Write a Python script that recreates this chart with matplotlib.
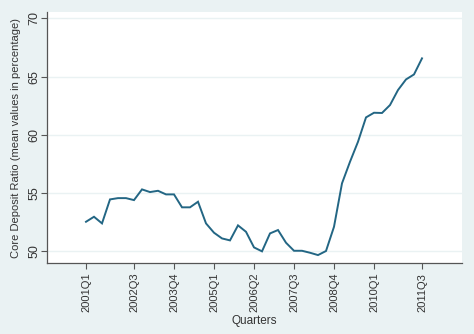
import matplotlib
matplotlib.use("Agg")
import matplotlib.pyplot as plt
import numpy as np

plt.rcParams['font.family'] = ['Liberation Sans', 'DejaVu Sans']

# Quarterly data, 2001Q1 .. 2011Q3
start_year = 2001
values = [52.54, 52.97, 52.40, 54.46, 54.57, 54.57, 54.40, 55.32, 55.09, 55.20,
          54.89, 54.89, 53.78, 53.78, 54.26, 52.40, 51.60, 51.11, 50.94, 52.23,
          51.68, 50.34, 50.00, 51.54, 51.83, 50.74, 50.05, 50.05, 49.88, 49.68,
          50.03, 52.11, 55.84, 57.69, 59.41, 61.50, 61.90, 61.88, 62.56, 63.85,
          64.76, 65.19, 66.57]
tick_labels = ["2001Q1", "2002Q3", "2003Q4", "2005Q1", "2006Q2", "2007Q3",
               "2008Q4", "2010Q1", "2011Q3"]
y_ticks = [50, 55, 60, 65, 70]

def qindex(lbl):
    y = int(lbl[:4]); q = int(lbl[5])
    return (y - start_year) * 4 + (q - 1)

x = np.arange(len(values))
bg = "#EAF2F3"
fig = plt.figure(figsize=(4.74, 3.34), dpi=100, facecolor=bg)
ax = fig.add_axes([47/474, 1 - 263/334, (462-47)/474, (263-12)/334])
ax.set_facecolor("white")
ax.plot(x, values, color="#236684", lw=1.4, solid_joinstyle="miter")
ax.set_xlim(-4.875, 47)
ax.set_ylim(49.0, 70.55)
ax.set_yticks(y_ticks)
ax.set_yticklabels([str(v) for v in y_ticks], rotation=90, va="center")
ax.set_xticks([qindex(l) for l in tick_labels])
ax.set_xticklabels(tick_labels, rotation=90)
ax.grid(axis="y", color=bg, lw=1.0)
ax.set_axisbelow(True)
for s in ["top", "right"]:
    ax.spines[s].set_visible(False)
for s in ["left", "bottom"]:
    ax.spines[s].set_color("#555555")
    ax.spines[s].set_linewidth(0.9)
ax.tick_params(axis="both", colors="#555555", labelcolor="#333333",
               length=4, width=0.8)
ax.tick_params(axis="x", labelsize=8, pad=3)
ax.tick_params(axis="y", labelsize=9, pad=1)
ax.set_xlabel("Quarters", fontsize=8.5, color="#333333", labelpad=2)
ax.set_ylabel("Core Deposit Ratio (mean values in percentage)", fontsize=8,
              color="#333333", labelpad=5)
fig.savefig("out.png", dpi=100, facecolor=bg)
